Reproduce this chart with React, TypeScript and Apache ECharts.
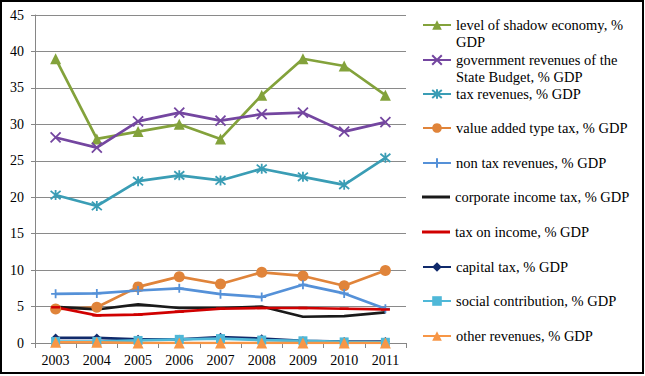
import React, { useEffect, useRef } from "react";
import * as echarts from "echarts";

const years = ["2003", "2004", "2005", "2006", "2007", "2008", "2009", "2010", "2011"];

const shadowEconomy = [39, 28, 29, 30, 28, 34, 39, 38, 34];
const govRevenues = [28.2, 26.8, 30.4, 31.6, 30.5, 31.4, 31.6, 29.0, 30.3];
const taxRevenues = [20.3, 18.8, 22.2, 23.0, 22.3, 23.9, 22.8, 21.7, 25.4];
const vatTax = [4.65, 4.9, 7.7, 9.1, 8.1, 9.7, 9.2, 7.85, 9.95];
const nonTaxRevenues = [6.75, 6.8, 7.2, 7.5, 6.7, 6.3, 8.0, 6.8, 4.7];
const corporateTax = [4.95, 4.6, 5.3, 4.8, 4.8, 5.0, 3.6, 3.7, 4.2];
const incomeTax = [4.9, 3.8, 3.9, 4.3, 4.7, 4.8, 4.8, 4.7, 4.6];
const capitalTax = [0.7, 0.7, 0.5, 0.5, 0.8, 0.6, 0.3, 0.2, 0.2];
const socialContribution = [0.2, 0.2, 0.35, 0.5, 0.6, 0.4, 0.3, 0.15, 0.1];
const otherRevenues = [0.1, 0.1, 0.0, 0.0, 0.0, 0.0, 0.0, 0.0, 0.0];

const seriesNames = [
  "level of shadow economy, % GDP",
  "government revenues of the State Budget, % GDP",
  "tax revenues, % GDP",
  "value added type tax, % GDP",
  "non tax revenues, % GDP",
  "corporate income tax, % GDP",
  "tax on income, % GDP",
  "capital tax, % GDP",
  "social contribution, % GDP",
  "other revenues, % GDP",
];

const legendLabels: Record<string, string> = {
  "level of shadow economy, % GDP": "\nlevel of shadow economy, %\nGDP",
  "government revenues of the State Budget, % GDP": "\ngovernment revenues of the\nState Budget, % GDP",
};

const FONT = "Liberation Serif";

export default function App() {
  const ref = useRef<HTMLDivElement>(null);
  useEffect(() => {
    if (!ref.current) return;
    const chart = echarts.init(ref.current, null, { renderer: "svg" });

    const cross = "path://M0,0L10,10M10,0L0,10";
    const asterisk = "path://M0,0L10,10M10,0L0,10M5,-1L5,11";
    const plus = "path://M5,0L5,10M0,5L10,5";

    const defs = [
      { data: shadowEconomy, color: "#83A23B", symbol: "triangle", size: 11 },
      { data: govRevenues, color: "#7446A0", symbol: cross, size: 10, stroke: true },
      { data: taxRevenues, color: "#3A9DB5", symbol: asterisk, size: 10, stroke: true },
      { data: vatTax, color: "#E0843A", symbol: "circle", size: 11 },
      { data: nonTaxRevenues, color: "#5591D8", symbol: plus, size: 9, stroke: true },
      { data: corporateTax, color: "#1a1a1a", symbol: "none", size: 0 },
      { data: incomeTax, color: "#D00000", symbol: "rect", size: [9, 2.5] },
      { data: capitalTax, color: "#102A6B", symbol: "diamond", size: 9 },
      { data: socialContribution, color: "#4FB8D8", symbol: "rect", size: 9 },
      { data: otherRevenues, color: "#F79646", symbol: "triangle", size: 11 },
    ];

    const series = defs.map((d, i) => ({
      name: seriesNames[i],
      type: "line",
      data: d.data,
      symbol: d.symbol,
      symbolSize: d.size,
      showSymbol: d.symbol !== "none",
      lineStyle: { color: d.color, width: 2.7 },
      itemStyle: {
        color: d.color,
        borderColor: d.color,
        borderWidth: (d as any).stroke ? 1.8 : 0,
      },
      emphasis: { disabled: true },
    }));

    const legendCenters = [25, 60, 94, 128, 163, 197, 232, 267, 301, 336];
    const legends = seriesNames.map((name, i) => {
      const two = !!legendLabels[name];
      const flat = i === 5 || i === 6;
      return {
        data: flat ? [{ name, icon: "rect" }] : [name],
        orient: "vertical",
        left: 422,
        top: legendCenters[i] - (two ? 25.5 : 8.5),
        padding: 0,
        itemWidth: 28,
        itemHeight: flat ? 3 : 12,
        formatter: (n: string) => legendLabels[n] || n,
        textStyle: { fontFamily: FONT, fontSize: 14.5, color: "#000", lineHeight: 17 },
        selectedMode: false,
      };
    });

    chart.setOption({
      animation: false,
      backgroundColor: "#fff",
      textStyle: { fontFamily: FONT },
      grid: { left: 35, right: 239, top: 15, bottom: 33, containLabel: false },
      legend: legends,
      xAxis: {
        type: "category",
        data: years,
        boundaryGap: true,
        axisLine: { lineStyle: { color: "#868686", width: 1 } },
        axisTick: { show: true, length: 5, lineStyle: { color: "#868686" } },
        axisLabel: { fontFamily: FONT, fontSize: 14, color: "#000", margin: 10 },
      },
      yAxis: {
        type: "value",
        min: 0,
        max: 45,
        interval: 5,
        axisLine: { show: true, lineStyle: { color: "#868686", width: 1 } },
        axisTick: { show: true, length: 4, lineStyle: { color: "#868686" } },
        axisLabel: { fontFamily: FONT, fontSize: 14, color: "#000", margin: 11 },
        splitLine: { lineStyle: { color: "#8a8a8a", width: 1 } },
      },
      graphic: [
        {
          type: "rect",
          shape: { x: 1, y: 1, width: 642, height: 372 },
          style: { fill: "none", stroke: "#000", lineWidth: 2 },
          silent: true,
          z: 100,
        },
      ],
      series,
    });
    return () => chart.dispose();
  }, []);

  return (
    <div
      ref={ref}
      style={{ position: "fixed", left: 0, top: 0, width: 645, height: 376, background: "#fff" }}
    />
  );
}
